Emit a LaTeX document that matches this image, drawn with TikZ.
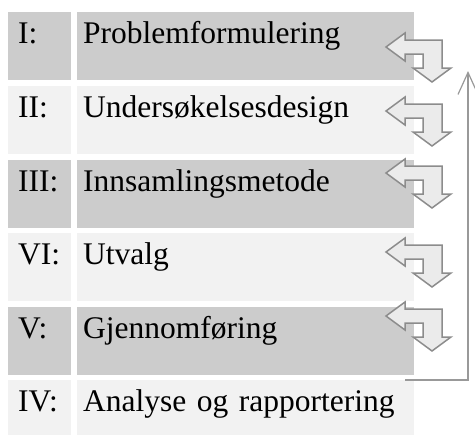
\documentclass[tikz,border=0pt]{standalone}
\usepackage{fontspec}
\setmainfont{Liberation Serif}
\usetikzlibrary{arrows.meta}
\definecolor{darkrow}{HTML}{CCCCCC}
\definecolor{lightrow}{HTML}{F2F2F2}
\definecolor{arrowfill}{HTML}{EBEBEB}
\definecolor{arrowline}{HTML}{8C8C8C}
\definecolor{loopline}{HTML}{999999}

\begin{document}
\begin{tikzpicture}[x=1pt,y=-1pt,
    cell/.style={anchor=north west,inner ysep=0pt,align=left,
                 text height=31pt,text depth=37pt,
                 font=\fontsize{31.5}{36}\selectfont},
    numcell/.style={cell,inner xsep=10pt,text width=43pt},
    namecell/.style={cell,inner xsep=6pt,text width=325pt},
    uturn/.pic={\filldraw[fill=arrowfill,draw=arrowline,line width=1.5pt,line join=miter]
        (0,0)--(19,-14)--(19,-7)--(56,-7)--(56,21)--(65,21)--(46,35)
        --(27,21)--(37,21)--(37,7)--(19,7)--(19,14)--cycle;}
    ]
\useasboundingbox (0,0) rectangle (475,439);

%-------------------------------------------- Rows
\node[numcell,fill=darkrow]  (num1) at (8,12)  {I:};
\node[namecell,fill=darkrow] (step1) at (77,12) {Problemformulering};

\node[numcell,fill=lightrow]  (num2) at (8,86)  {II:};
\node[namecell,fill=lightrow] (step2) at (77,86) {Undersøkelsesdesign};

\node[numcell,fill=darkrow]  (num3) at (8,160)  {III:};
\node[namecell,fill=darkrow] (step3) at (77,160) {Innsamlingsmetode};

\node[numcell,fill=lightrow]  (num4) at (8,233)  {VI:};
\node[namecell,fill=lightrow] (step4) at (77,233) {Utvalg};

\node[numcell,fill=darkrow]  (num5) at (8,307)  {V:};
\node[namecell,fill=darkrow] (step5) at (77,307) {Gjennomføring};

\node[numcell,fill=lightrow,text depth=24pt]  (num6) at (8,380)  {IV:};
\node[namecell,fill=lightrow,text depth=24pt] (step6) at (77,380) {Analyse og rapportering};

%-------------------------------------------- Turn arrows
\pic at (386,47)  {uturn};
\pic at (386,111) {uturn};
\pic at (386,173) {uturn};
\pic at (386,252) {uturn};
\pic at (386,316) {uturn};

%-------------------------------------------- Back line
\coordinate (loopstart) at (405,380);
\coordinate (loopcorner) at (468,380);
\coordinate (loopend) at (468,71);
\draw[loopline,line width=1.5pt,-{Straight Barb[length=22pt,width=20pt,line width=1.2pt]}]
    (loopstart)--(loopcorner)--(loopend);

\end{tikzpicture}
\end{document}
